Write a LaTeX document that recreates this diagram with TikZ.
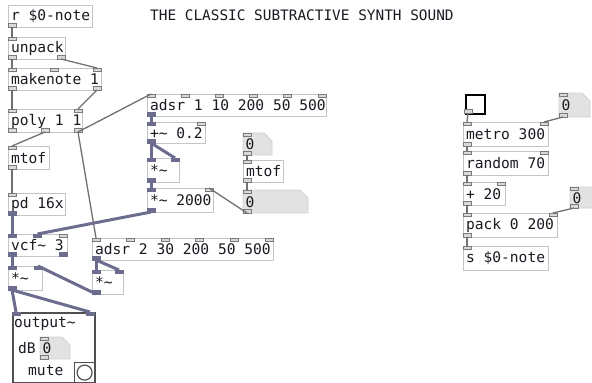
\documentclass[tikz,border=0pt]{standalone}
\usepackage{fontspec}
\newfontfamily\pdfont{DejaVu Sans Mono}
\definecolor{boxgray}{HTML}{C4C4C4}
\definecolor{txt}{HTML}{1A1A22}
\definecolor{ctlline}{HTML}{707070}
\definecolor{sigline}{HTML}{6C6C8E}
\definecolor{portfill}{HTML}{D8D8D8}
\definecolor{portdraw}{HTML}{7A7A7A}
\definecolor{nbfill}{HTML}{E2E2E2}
\definecolor{nbdraw}{HTML}{D2D2D2}
\definecolor{gopdraw}{HTML}{505050}
\newcommand\tld{\string~}
\newcommand\pdsp{\spaceskip=0.602em\relax\xspaceskip=0.602em\relax}
\newcommand\pdtext{\pdfont\fontsize{14.6}{16}\selectfont}
\tikzset{
  obj/.style={draw=boxgray, line width=1pt, fill=white, anchor=north west,
    inner xsep=2.5pt, inner ysep=0pt, align=flush left, font=\pdtext, text=txt},
  numtext/.style={anchor=north west, inner xsep=2.5pt, inner ysep=0pt,
    align=flush left, font=\pdtext, text=txt},
  gop/.style={draw=gopdraw, line width=1.5pt, fill=white, anchor=north west,
    inner sep=0pt},
  lbl/.style={anchor=north west, inner sep=0pt, font=\pdtext, text=txt},
  nbshape/.style={fill=nbfill, draw=nbdraw, line width=0.8pt},
  ctl/.style={draw=ctlline, line width=1.3pt},
  sig/.style={draw=sigline, line width=3pt},
  portc/.style={draw=portdraw, fill=portfill, line width=0.7pt},
  ports/.style={draw=sigline, fill=sigline, line width=0.7pt},
}
% [style] name x y w h text
\newcommand\pdobj[7][obj]{%
  \pgfmathsetmacro\pdtw{#5-5}%
  \node[#1, text width=\pdtw pt, minimum height=#6pt] (#2) at (#3,#4) {\pdsp\mbox{#7}};
  \gdef\cn{#2}\gdef\cx{#3}\gdef\cy{#4}\gdef\cw{#5}\gdef\ch{#6}}
% name x y w h text  (number box with cut corner)
\newcommand\pdnum[6]{%
  \path[nbshape] (#2,#3) -- ++(#4-8,0) -- ++(8,8) -- (#2+#4,#3+#5) -- (#2,#3+#5) -- cycle;
  \pgfmathsetmacro\pdtw{#4-5}%
  \node[numtext, text width=\pdtw pt, minimum height=#5pt] (#1) at (#2,#3) {\pdsp\mbox{#6}};
  \gdef\cn{#1}\gdef\cx{#2}\gdef\cy{#3}\gdef\cw{#4}\gdef\ch{#5}}
\newcommand\pdcount[1]{%
  \xdef\pdn{0}%
  \foreach \t in {#1}{\pgfmathtruncatemacro\pdtmp{\pdn+1}\global\let\pdn\pdtmp}}
\newcommand\pdins[1]{%
  \pdcount{#1}%
  \foreach \t [count=\i from 0] in {#1}{%
    \pgfmathsetmacro\px{\cx+(\cw-8)*\i/max(\pdn-1,1)}%
    \path[port\t] (\px,\cy) rectangle ++(8,3.5);
    \coordinate (\cn-i\i) at (\px+4,\cy);}}
\newcommand\pdouts[1]{%
  \pdcount{#1}%
  \foreach \t [count=\i from 0] in {#1}{%
    \pgfmathsetmacro\px{\cx+(\cw-8)*\i/max(\pdn-1,1)}%
    \path[port\t] (\px,\cy+\ch-3.5) rectangle ++(8,3.5);
    \coordinate (\cn-o\i) at (\px+4,\cy+\ch);}}
\begin{document}
\begin{tikzpicture}[x=1pt,y=-1pt]
\useasboundingbox (0,0) rectangle (592,383);
\fill[white] (0,0) rectangle (592,383);

\node[lbl, anchor=west, font=\pdfont\fontsize{14.4}{16}\selectfont] (title) at (150,15)
  {THE CLASSIC SUBTRACTIVE SYNTH SOUND};

% left column
\pdobj{rnote}{8}{5}{84}{22}{r \$0-note}\pdouts{c}
\pdobj{unpack}{8}{37}{57}{22}{unpack}\pdins{c}\pdouts{c,c}
\pdobj{makenote}{8}{68}{93}{22}{makenote 1}\pdins{c,c,c}\pdouts{c,c}
\pdobj{poly}{8}{109}{74}{23}{poly 1 1}\pdins{c,c}\pdouts{c,c,c}
\pdobj{mtofA}{8}{146}{41}{23}{mtof}\pdins{c}\pdouts{c}
\pdobj{pdx}{8}{193}{57}{22}{pd 16x}\pdins{c}\pdouts{s}
\pdobj{vcf}{8}{234}{59}{22}{vcf\tld{} 3}\pdins{s,s,c}\pdouts{s,s}
\pdobj{adsrB}{92}{238}{181}{22}{adsr 2 30 200 50 500}\pdins{c,c,c,c,c,c}\pdouts{s}
\pdobj{mulL}{8}{266}{34}{24}{*\tld}\pdins{s,s}\pdouts{s}
\pdobj{mulR}{92}{270}{31}{24}{*\tld}\pdins{s,s}\pdouts{s}

% output~ graph-on-parent
\node[gop, minimum width=82pt, minimum height=70pt] (output) at (12,312) {};
\gdef\cn{output}\gdef\cx{12}\gdef\cy{312}\gdef\cw{82}\gdef\ch{70}\pdins{s,s}
\node[lbl] (outname) at (14,317) {output\tld};
\node[lbl] (dblbl) at (18,342) {dB};
\pdnum{dbnum}{40}{337}{30}{22}{0}\pdins{c}\pdouts{c}
\node[lbl] (mutelbl) at (28,365) {mute};
\node[draw=gopdraw, line width=1.2pt, fill=white, anchor=north west, minimum size=20pt, inner sep=0pt] (mute) at (74,362) {};
\draw[gopdraw, line width=1.2pt] (mute.center) circle (7.5pt);

% middle column
\pdobj{adsrA}{147}{94}{179}{22}{adsr 1 10 200 50 500}\pdins{c,c,c,c,c,c}\pdouts{s}
\pdobj{addp}{147}{122}{58}{21}{+\tld{} 0.2}\pdins{s,c}\pdouts{s}
\pdobj{mulM}{147}{158}{32}{24}{*\tld}\pdins{s,s}\pdouts{s}
\pdobj{mulK}{147}{188}{66}{24}{*\tld{} 2000}\pdins{s,c}\pdouts{s}
\pdnum{nbA}{243}{133}{29}{22}{0}\pdins{c}\pdouts{c}
\pdobj{mtofB}{243}{160}{40}{22}{mtof}\pdins{c}\pdouts{c}
\pdnum{nbB}{243}{190}{65}{23}{0}\pdins{c}\pdouts{c}

% right column
\node[draw=black, line width=2.4pt, fill=white, anchor=north west, minimum size=19pt, inner sep=0pt] (toggle) at (465,94) {};
\gdef\cn{toggle}\gdef\cx{464}\gdef\cy{93}\gdef\cw{20}\gdef\ch{20}\pdouts{c}
\pdnum{nbC}{559}{93}{31}{24}{0}\pdins{c}\pdouts{c}
\pdobj{metro}{463}{122}{85}{24}{metro 300}\pdins{c,c}\pdouts{c}
\pdobj{random}{463}{151}{85}{24}{random 70}\pdins{c,c}\pdouts{c}
\pdobj{plus}{463}{182}{42}{23}{+ 20}\pdins{c,c}\pdouts{c}
\pdnum{nbD}{570}{187}{30}{21}{0}\pdins{c}\pdouts{c}
\pdobj{pack}{463}{213}{94}{24}{pack 0 200}\pdins{c,c}\pdouts{c}
\pdobj{snote}{463}{246}{85}{24}{s \$0-note}\pdins{c}

% control connections
\draw[ctl] (rnote-o0) -- (unpack-i0);
\draw[ctl] (unpack-o0) -- (makenote-i0);
\draw[ctl] (unpack-o1) -- (makenote-i2);
\draw[ctl] (makenote-o0) -- (poly-i0);
\draw[ctl] (makenote-o1) -- (poly-i1);
\draw[ctl] (poly-o1) -- (mtofA-i0);
\draw[ctl] (poly-o2) -- (adsrA-i0);
\draw[ctl] (poly-o2) -- (adsrB-i0);
\draw[ctl] (mtofA-o0) -- (pdx-i0);
\draw[ctl] (nbA-o0) -- (mtofB-i0);
\draw[ctl] (mtofB-o0) -- (nbB-i0);
\draw[ctl] (nbB-o0) -- (mulK-i1);
\draw[ctl] (toggle-o0) -- (metro-i0);
\draw[ctl] (nbC-o0) -- (metro-i1);
\draw[ctl] (metro-o0) -- (random-i0);
\draw[ctl] (random-o0) -- (plus-i0);
\draw[ctl] (plus-o0) -- (pack-i0);
\draw[ctl] (nbD-o0) -- (pack-i1);
\draw[ctl] (pack-o0) -- (snote-i0);

% signal connections
\draw[sig] (pdx-o0) -- (vcf-i0);
\draw[sig] (mulK-o0) -- (vcf-i1);
\draw[sig] (adsrA-o0) -- (addp-i0);
\draw[sig] (addp-o0) -- (mulM-i0);
\draw[sig] (addp-o0) -- (mulM-i1);
\draw[sig] (mulM-o0) -- (mulK-i0);
\draw[sig] (vcf-o0) -- (mulL-i0);
\draw[sig] (adsrB-o0) -- (mulR-i0);
\draw[sig] (adsrB-o0) -- (mulR-i1);
\draw[sig] (mulR-o0) -- (mulL-i1);
\draw[sig] (mulL-o0) -- (output-i0);
\draw[sig] (mulL-o0) -- (output-i1);
\end{tikzpicture}
\end{document}
